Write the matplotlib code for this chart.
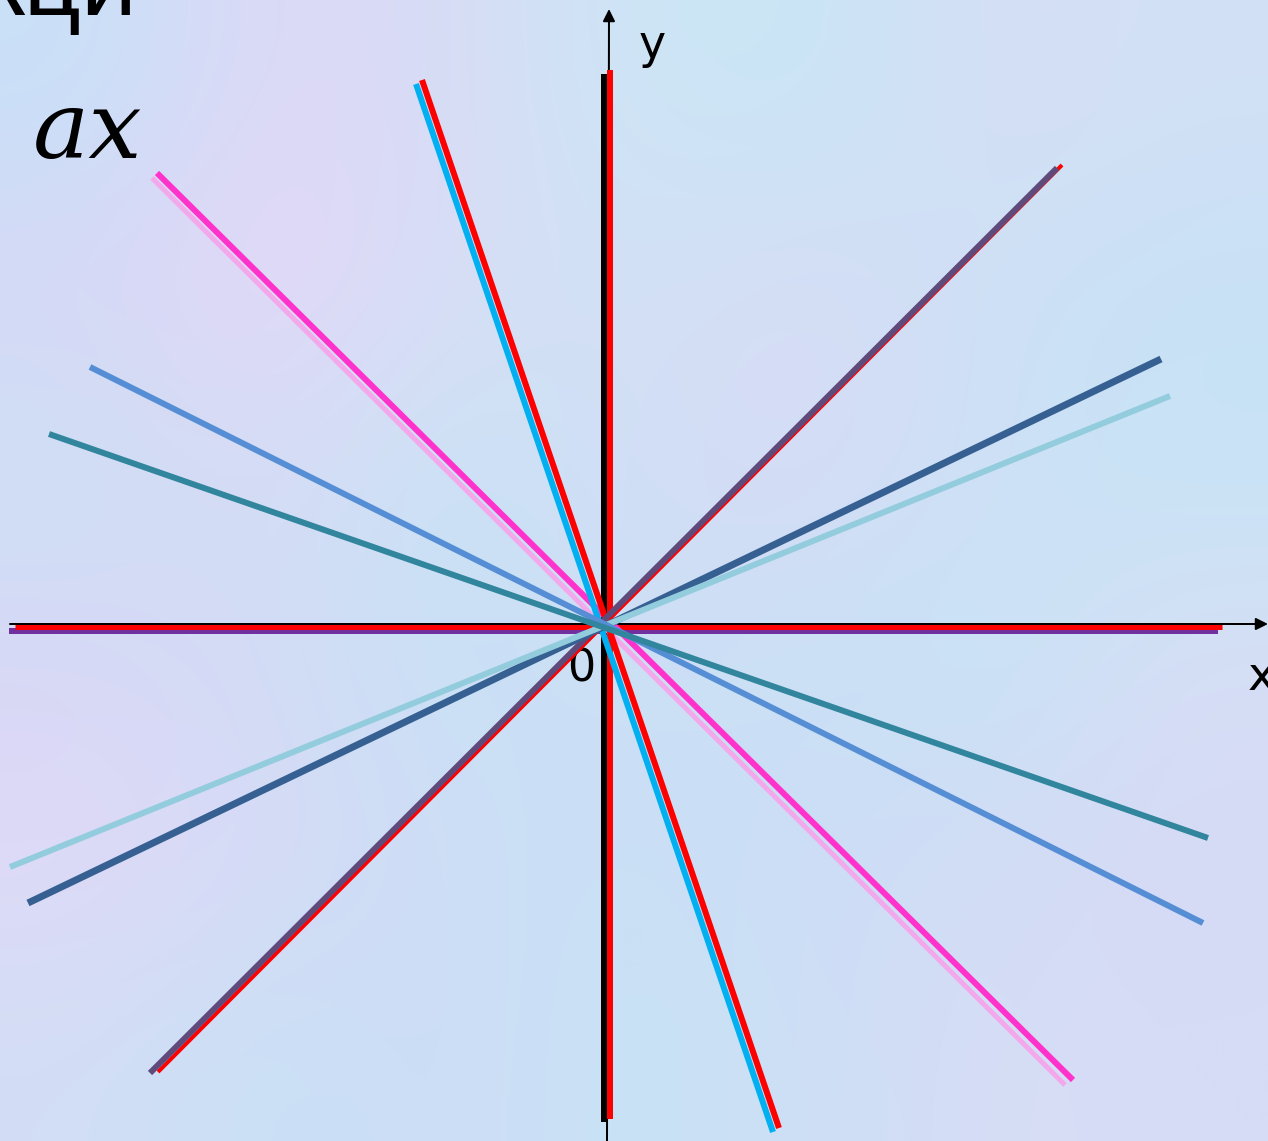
import numpy as np
import matplotlib
matplotlib.use('Agg')
import matplotlib.pyplot as plt

# line segments through the origin (1 unit = 100 px of the picture)
seg_names  = ['horiz_purple', 'horiz_red', 'vert_black', 'vert_red',
              'pink_light', 'pink', 'steep_red', 'steep_cyan',
              'diag_red', 'diag_purple', 'dark_blue', 'light_cyan',
              'blue', 'teal']
seg_x0 = [-5.98, -5.92, -0.035, 0.03, -4.55, -4.50, -1.85, -1.91, -4.49, -4.57, -5.79, -5.97, -5.17, -5.58]
seg_y0 = [-0.055, -0.01, 5.52, 5.56, 4.48, 4.53, 5.46, 5.42, -4.46, -4.47, -2.77, -2.41, 2.59, 1.92]
seg_x1 = [6.11, 6.15, -0.035, 0.03, 4.58, 4.66, 1.72, 1.66, 4.55, 4.50, 5.54, 5.63, 5.96, 6.01]
seg_y1 = [-0.055, -0.01, -4.96, -4.93, -4.59, -4.54, -5.02, -5.06, 4.61, 4.58, 2.67, 2.30, -2.97, -2.12]
seg_colors = ['#7030A0', '#FF0000', '#000000', '#FF0000',
              '#F4A8EC', '#FF33CC', '#FF0000', '#00B0F0',
              '#FF0000', '#5F4B7B', '#366092', '#93CDDD',
              '#558ED5', '#31859C']
seg_width = [6, 5, 6, 6, 5, 6, 6, 6, 4, 6, 7, 6, 6, 6]

# soft background colours (rows top->bottom)
bg_rows = [
    [(200, 225, 248), (222, 216, 246), (215, 220, 246), (205, 230, 245), (200, 230, 245), (215, 222, 246), (210, 225, 245)],
    [(215, 215, 245), (230, 215, 248), (215, 222, 246), (210, 225, 245), (215, 220, 246), (205, 225, 245), (200, 225, 245)],
    [(205, 225, 245), (215, 220, 246), (200, 228, 245), (210, 222, 246), (215, 220, 246), (205, 225, 246), (200, 228, 245)],
    [(215, 215, 245), (210, 220, 246), (200, 225, 245), (205, 222, 245), (200, 225, 245), (200, 228, 245), (215, 222, 246)],
    [(225, 218, 248), (215, 218, 246), (205, 222, 245), (200, 225, 245), (205, 220, 245), (210, 220, 246), (215, 218, 246)],
    [(210, 222, 245), (200, 225, 245), (205, 220, 245), (200, 228, 245), (205, 222, 245), (215, 222, 246), (215, 220, 246)],
]

W, H, DPI = 1268, 1141, 100
ox, oy = 607, 626   # origin in pixels
px = 72.0 / DPI

fig = plt.figure(figsize=(W / DPI, H / DPI), dpi=DPI)
ax = fig.add_axes([0, 0, 1, 1])
xmin, xmax = -ox / 100, (W - ox) / 100
ymin, ymax = (oy - H) / 100, oy / 100
ax.set_xlim(xmin, xmax)
ax.set_ylim(ymin, ymax)
ax.axis('off')

bg = np.array(bg_rows, dtype=float) / 255
ax.imshow(bg, extent=(xmin, xmax, ymin, ymax), interpolation='bicubic',
          aspect='auto', zorder=0)

# thin axes with arrows
ax.annotate('', xy=(xmax, 0.02), xytext=(-5.97, 0.02),
            arrowprops=dict(arrowstyle='-|>', color='black', lw=2 * px,
                            mutation_scale=18, shrinkA=0, shrinkB=0), zorder=1)
ax.annotate('', xy=(0.02, 6.17), xytext=(0.0, ymin),
            arrowprops=dict(arrowstyle='-|>', color='black', lw=2 * px,
                            mutation_scale=18, shrinkA=0, shrinkB=0), zorder=1)

for i in range(len(seg_names)):
    ax.plot([seg_x0[i], seg_x1[i]], [seg_y0[i], seg_y1[i]],
            color=seg_colors[i], lw=seg_width[i] * px,
            solid_capstyle='butt', zorder=2 + i)

ax.text(0.45, 5.8, 'y', fontsize=33, family='DejaVu Sans', va='center', ha='center')
ax.text(-0.26, -0.43, '0', fontsize=32, family='DejaVu Sans', va='center', ha='center')
ax.text(6.55, -0.52, 'x', fontsize=34, family='DejaVu Sans', va='center', ha='center')

fig.text(137 / W, 1 - 15 / H, 'кци', fontsize=72, family='Liberation Sans',
         ha='right', va='baseline')
fig.text(33 / W, 1 - 158 / H, 'ax', fontsize=68, family='DejaVu Serif',
         style='italic', ha='left', va='baseline')

fig.savefig('out.png', dpi=DPI)
